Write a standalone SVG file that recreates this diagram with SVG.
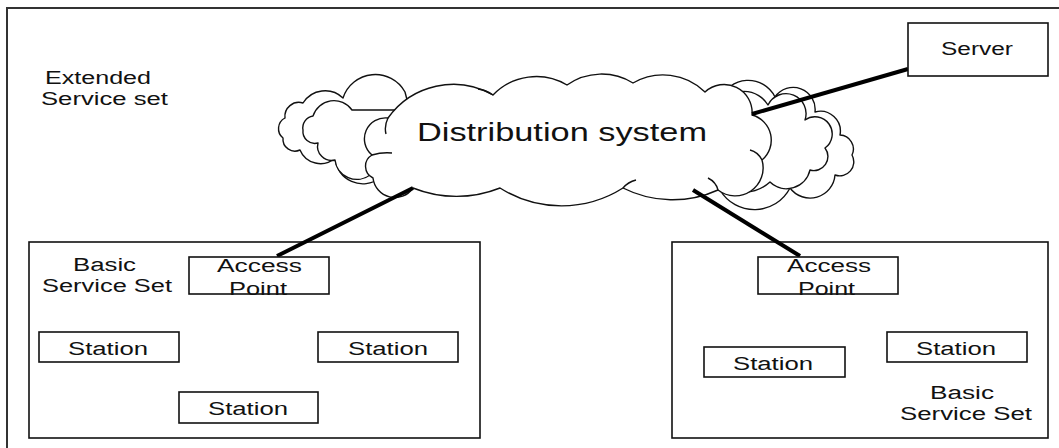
<svg xmlns="http://www.w3.org/2000/svg" width="1059" height="448" viewBox="0 0 1059 448">
<style>
.bg{fill:#fff}
.frame{fill:none;stroke:#333;stroke-width:2}
.box{fill:#fff;stroke:#111;stroke-width:1.6}
.cloud{fill:#fff;stroke:#111;stroke-width:1.4;stroke-linejoin:round}
.tail{fill:none;stroke:#111;stroke-width:1.4}
.conn{stroke:#000;stroke-width:4;stroke-linecap:butt;fill:none}
text{font-family:"Liberation Sans",Arial,sans-serif;font-size:18px;fill:#111}
.big{font-size:26px}
</style>
<rect class="bg" x="0" y="0" width="1059" height="448"/>
<rect class="frame" x="7" y="8" width="1070" height="460"/>

<g id="ess-label">
<text x="45" y="84" textLength="106" lengthAdjust="spacingAndGlyphs">Extended</text>
<text x="41" y="105" textLength="127" lengthAdjust="spacingAndGlyphs">Service set</text>
</g>

<g id="bss-left">
<rect class="box" x="29" y="242" width="451" height="196"/>
<text x="73" y="271" textLength="63" lengthAdjust="spacingAndGlyphs">Basic</text>
<text x="42" y="292" textLength="130" lengthAdjust="spacingAndGlyphs">Service Set</text>
</g>

<g id="bss-right">
<rect class="box" x="672" y="242" width="376" height="196"/>
<text x="930" y="399" textLength="64" lengthAdjust="spacingAndGlyphs">Basic</text>
<text x="900" y="420" textLength="132" lengthAdjust="spacingAndGlyphs">Service Set</text>
</g>

<g id="distribution-system">
<path class="cloud" d="M 300 150 A 12 12 0 0 1 283 138 A 12 12 0 0 1 285 118 A 14 14 0 0 1 303 103 A 26 26 0 0 1 343 98 A 34 34 0 0 1 405 92 L 420 150 L 380 178 A 28 28 0 0 1 335 158 A 22 22 0 0 1 300 150 Z"/>
<path class="cloud" d="M 318 143 A 12 12 0 0 1 303 130 A 12 12 0 0 1 313 116 A 22 22 0 0 1 352 110 L 400 110 L 400 170 L 370 175 A 22 22 0 0 1 335 160 A 14 14 0 0 1 318 143 Z"/>
<path class="cloud" d="M 720 100 A 30 30 0 0 1 775 97 A 22 22 0 0 1 815 112 A 20 20 0 0 1 840 135 A 14 14 0 0 1 852 155 A 14 14 0 0 1 835 175 A 25 25 0 0 1 790 188 A 40 40 0 0 1 720 190 Z"/>
<path class="cloud" d="M 720 105 A 28 28 0 0 1 768 105 A 20 20 0 0 1 805 120 A 16 16 0 0 1 825 148 A 14 14 0 0 1 810 170 A 24 24 0 0 1 770 182 A 40 40 0 0 1 720 185 Z"/>
<path class="cloud" d="M 372 155 A 21 21 0 0 1 388 118 A 80 80 0 0 1 493 95 A 60 60 0 0 1 567 85 A 60 60 0 0 1 633 83 A 60 60 0 0 1 705 92 A 28 28 0 0 1 752 115 A 26 26 0 0 1 762 160 A 28 28 0 0 1 718 190 A 110 110 0 0 1 623 188 A 115 115 0 0 1 500 188 A 117 117 0 0 1 413 188 A 22 22 0 0 1 373 178 A 13 13 0 0 1 372 155 Z"/>
<path class="tail" d="M 372 155 Q 382 152 392 153 M 388 118 Q 384 126 386 134 M 493 95 Q 486 90 478 89 M 623 188 Q 628 182 636 180 M 762 160 Q 758 152 750 150 M 718 190 Q 716 182 708 178"/>
<text class="big" x="417" y="141" textLength="290" lengthAdjust="spacingAndGlyphs">Distribution system</text>
</g>

<g id="connectors">
<line class="conn" x1="752" y1="114" x2="908" y2="69"/>
<line class="conn" x1="413" y1="188" x2="277" y2="256"/>
<line class="conn" x1="693" y1="190" x2="800" y2="256"/>
</g>

<g id="server">
<rect class="box" x="908" y="23" width="140" height="53"/>
<text x="941" y="55" textLength="72" lengthAdjust="spacingAndGlyphs">Server</text>
</g>

<g id="ap-left">
<rect class="box" x="189" y="257" width="140" height="37"/>
<text x="217" y="272" textLength="85" lengthAdjust="spacingAndGlyphs">Access</text>
<text x="229" y="295" textLength="58" lengthAdjust="spacingAndGlyphs">Point</text>
</g>

<g id="station-l1">
<rect class="box" x="39" y="332" width="140" height="30"/>
<text x="68" y="355" textLength="80" lengthAdjust="spacingAndGlyphs">Station</text>
</g>
<g id="station-l2">
<rect class="box" x="318" y="332" width="140" height="30"/>
<text x="348" y="355" textLength="80" lengthAdjust="spacingAndGlyphs">Station</text>
</g>
<g id="station-l3">
<rect class="box" x="179" y="392" width="139" height="31"/>
<text x="208" y="415" textLength="80" lengthAdjust="spacingAndGlyphs">Station</text>
</g>

<g id="ap-right">
<rect class="box" x="758" y="257" width="140" height="37"/>
<text x="787" y="272" textLength="84" lengthAdjust="spacingAndGlyphs">Access</text>
<text x="798" y="295" textLength="57" lengthAdjust="spacingAndGlyphs">Point</text>
</g>

<g id="station-r1">
<rect class="box" x="704" y="347" width="141" height="30"/>
<text x="733" y="370" textLength="80" lengthAdjust="spacingAndGlyphs">Station</text>
</g>
<g id="station-r2">
<rect class="box" x="887" y="332" width="140" height="30"/>
<text x="916" y="355" textLength="80" lengthAdjust="spacingAndGlyphs">Station</text>
</g>
</svg>
